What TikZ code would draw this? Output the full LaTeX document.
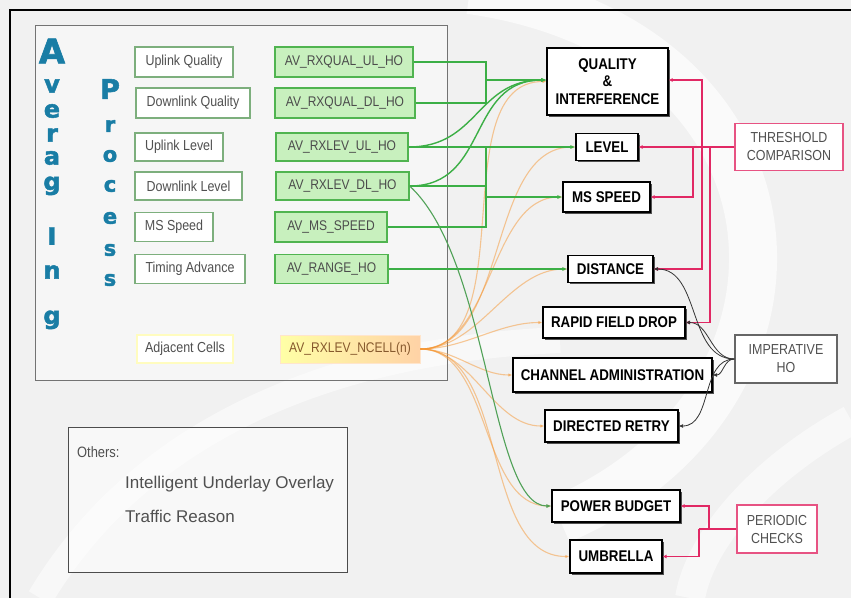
\documentclass[tikz,border=0pt]{standalone}
\usepackage{fontspec}
\setmainfont{Liberation Sans}
\newfontfamily\nar[FakeStretch=0.86]{Liberation Sans}
\newfontfamily\avfont[BoldFeatures={FakeBold=2}]{DejaVu Sans}
\usetikzlibrary{arrows.meta,shadows}
\definecolor{bg}{RGB}{241,241,241}
\definecolor{grn}{RGB}{60,175,70}
\definecolor{grnfill}{RGB}{200,240,190}
\definecolor{grnbd}{RGB}{80,180,80}
\definecolor{lblbd}{RGB}{125,175,125}
\definecolor{pnk}{RGB}{225,40,100}
\definecolor{org}{RGB}{245,150,50}
\definecolor{tealc}{RGB}{25,125,165}
\definecolor{txtg}{RGB}{80,80,80}
\begin{document}
\begin{tikzpicture}[x=1pt,y=-1pt,
  lbl/.style={draw=lblbd, line width=1.2pt, fill=white, inner sep=0pt, font=\nar\fontsize{14.5}{16}\selectfont, text=txtg},
  av/.style={draw=grnbd, line width=1.3pt, fill=grnfill, inner sep=0pt, font=\nar\fontsize{14}{16}\selectfont, text=black!70},
  rb/.style={draw=black, line width=1.2pt, fill=white, inner sep=0pt, align=center,
     font=\nar\bfseries\fontsize{15.5}{17.5}\selectfont,
     drop shadow={shadow xshift=1.5pt, shadow yshift=-1.5pt, fill=black!75, opacity=0.9}},
  tag/.style={line width=1.2pt, fill=white, inner sep=0pt, align=center, text=txtg,
     font=\nar\fontsize{14.5}{18}\selectfont},
  bigA/.style={text=tealc, font=\avfont\bfseries\fontsize{34}{34}\selectfont, inner sep=0pt},
  bigl/.style={text=tealc, font=\avfont\bfseries\fontsize{24}{24}\selectfont, inner sep=0pt},
  bigP/.style={text=tealc, font=\avfont\bfseries\fontsize{27}{27}\selectfont, inner sep=0pt},
  bigp/.style={text=tealc, font=\avfont\bfseries\fontsize{21}{21}\selectfont, inner sep=0pt},
  gline/.style={draw=grn, line width=1.4pt},
  garr/.style={gline, -{Latex[length=5pt,width=4pt]}},
  oline/.style={draw=org, line width=1.1pt, opacity=0.5, -{Latex[length=4pt,width=3.5pt]}},
  pline/.style={draw=pnk, line width=1.3pt},
  parr/.style={pline, -{Latex[length=4pt,width=4pt]}},
  barr/.style={draw=black!80, line width=0.8pt, -{Latex[length=4.5pt,width=4pt]}},
  txt/.style={text=txtg, inner sep=0pt, anchor=west}
]
\useasboundingbox (0,0) rectangle (851,598);
\fill[bg] (0,0) rectangle (851,598);
% watermark swooshes
\draw[white, line width=48pt, opacity=0.65] (470,-10) .. controls (820,40) and (840,400) .. (560,520);
\draw[white, line width=26pt, opacity=0.5] (40,598) .. controls (140,430) and (330,350) .. (560,340);
\draw[white, line width=30pt, opacity=0.5] (851,420) .. controls (760,470) and (700,540) .. (690,598);
% outer frame
\draw[line width=2pt] (10,598) -- (10,10) -- (851,10);

% averaging box
\node[draw=black!55, line width=0.8pt, fill=white, fill opacity=0.4, minimum width=412pt, minimum height=355pt, inner sep=0pt] (avgbox) at (241,202.5) {};

% big letters
\node[bigA] (a1) at (52,51) {A};
\node[bigl] (a2) at (52,86) {v};
\node[bigl] (a3) at (52,111) {e};
\node[bigl] (a4) at (52,135) {r};
\node[bigl] (a5) at (52,158) {a};
\node[bigl, anchor=base] (a6) at (52,190) {g};
\node[bigl] (a7) at (52,236) {I};
\node[bigl] (a8) at (52,272) {n};
\node[bigl, anchor=base] (a9) at (52,324) {g};
\node[bigP] (p1) at (110,89) {P};
\node[bigp] (p2) at (110,126) {r};
\node[bigp] (p3) at (110,156) {o};
\node[bigp] (p4) at (110,186) {c};
\node[bigp] (p5) at (110,218) {e};
\node[bigp] (p6) at (110,250) {s};
\node[bigp] (p7) at (110,280) {s};

% left labels
\node[lbl, minimum width=98pt, minimum height=30pt] (l1) at (184,62) {Uplink Quality};
\node[lbl, minimum width=114pt, minimum height=30pt] (l2) at (193,103) {Downlink Quality};
\node[lbl, minimum width=88pt, minimum height=28pt] (l3) at (179,147) {Uplink Level};
\node[lbl, minimum width=107pt, minimum height=28pt] (l4) at (188.5,186) {Downlink Level};
\node[lbl, minimum width=78pt, minimum height=29pt] (l5) at (174,227) {MS Speed};
\node[lbl, minimum width=110pt, minimum height=29pt] (l6) at (190,269) {Timing Advance};
\node[lbl, draw=yellow!25!white, minimum width=96pt, minimum height=28pt] (l7) at (185,349) {Adjacent Cells};

% AV boxes
\node[av, minimum width=138pt, minimum height=30pt] (v1) at (344,62) {AV\_RXQUAL\_UL\_HO};
\node[av, minimum width=140pt, minimum height=30pt] (v2) at (345,103) {AV\_RXQUAL\_DL\_HO};
\node[av, minimum width=132pt, minimum height=28pt] (v3) at (342,147) {AV\_RXLEV\_UL\_HO};
\node[av, minimum width=133pt, minimum height=28pt] (v4) at (342.5,186) {AV\_RXLEV\_DL\_HO};
\node[av, minimum width=112pt, minimum height=30pt] (v5) at (331,227) {AV\_MS\_SPEED};
\node[av, minimum width=113pt, minimum height=29pt] (v6) at (331.5,269) {AV\_RANGE\_HO};
\node[av, draw=orange!20!white, line width=0.6pt, left color=yellow!35!white, right color=orange!35!white, text=brown!70!black, minimum width=140pt, minimum height=28pt] (v7) at (350,349) {AV\_RXLEV\_NCELL(n)};

% right boxes
\node[rb, minimum width=121pt, minimum height=67pt] (qi) at (607.5,81.5) {QUALITY\\\&\\INTERFERENCE};
\node[rb, minimum width=62pt, minimum height=27pt] (lev) at (607,147) {LEVEL};
\node[rb, minimum width=87pt, minimum height=30pt] (mss) at (606.5,197) {MS SPEED};
\node[rb, minimum width=85pt, minimum height=27pt] (dist) at (610.5,269) {DISTANCE};
\node[rb, minimum width=142pt, minimum height=31pt] (rfd) at (614,322.5) {RAPID FIELD DROP};
\node[rb, minimum width=199pt, minimum height=34pt] (ca) at (612.5,375) {CHANNEL ADMINISTRATION};
\node[rb, minimum width=133pt, minimum height=32pt] (dr) at (611.5,426) {DIRECTED RETRY};
\node[rb, minimum width=128pt, minimum height=32pt] (pb) at (616,506) {POWER BUDGET};
\node[rb, minimum width=92pt, minimum height=33pt] (umb) at (616,556.5) {UMBRELLA};

% tag boxes
\node[tag, draw=pnk!80, minimum width=108pt, minimum height=47pt] (thr) at (789,147) {THRESHOLD\\COMPARISON};
\node[tag, draw=black!60, minimum width=102pt, minimum height=48pt] (imp) at (786,359) {IMPERATIVE\\HO};
\node[tag, draw=pnk!80, minimum width=80pt, minimum height=48pt] (per) at (777,529) {PERIODIC\\CHECKS};

% others box
\node[draw=black!70, line width=0.8pt, fill=white, fill opacity=0.5, minimum width=279pt, minimum height=145pt, inner sep=0pt] (oth) at (207.5,499.5) {};
\node[txt, font=\nar\fontsize{15}{16}\selectfont] (o1) at (77,452) {Others:};
\node[txt, font=\fontsize{17}{18}\selectfont] (o2) at (125,484) {Intelligent Underlay Overlay};
\node[txt, font=\fontsize{17}{18}\selectfont] (o3) at (125,516) {Traffic Reason};

% orange fan from NCELL
\foreach \t in {qi,lev,mss,dist,rfd,ca,dr,pb,umb}{
  \draw[oline] (v7.east) to[out=0,in=180,looseness=0.9] (\t.west);
}

% green connectors
\coordinate (j1) at (486,80);
\coordinate (j2) at (486,197);
\coordinate (j2t) at (486,147);
\draw[gline] (v1.east) -| (j1);
\draw[gline] (v2.east) -| (j1);
\draw[garr] (j1) -- (j1 -| qi.west);
\draw[garr] (v3.east) -- (lev.west);
\draw[gline] (v4.east) -- (v4.east -| j2);
\draw[gline] (v5.east) -| (j2t);
\draw[garr] (j2) -- (mss.west);
\draw[garr] (v6.east) -- (dist.west);
\draw[gline, -{Latex[length=5pt,width=4pt]}] (v3.east) .. controls +(70,0) and +(-70,0) .. (j1 -| qi.west);
\draw[gline, -{Latex[length=5pt,width=4pt]}] (v4.east) .. controls +(80,0) and +(-80,0) .. (j1 -| qi.west);
\draw[draw=grn!70!gray, line width=1.1pt, -{Latex[length=5pt,width=4pt]}] (v4.east) .. controls (490,260) and (490,506) .. (pb.west);

% pink threshold connectors
\coordinate (ta) at (702,147);
\coordinate (tb) at (693,147);
\coordinate (tc) at (710,147);
\draw[parr] (thr.west) -- (lev.east);
\draw[parr] (ta) |- (qi.east |- j1);
\draw[parr] (ta) |- (dist.east);
\draw[parr] (tb) |- (mss.east);
\draw[parr] (tc) |- (rfd.east);

% imperative connectors
\draw[barr] (imp.west) to[out=180,in=0] (dist.east);
\draw[barr] (imp.west) to[out=180,in=0] (rfd.east);
\draw[barr] (imp.west) to[out=180,in=0] (ca.east);
\draw[barr] (imp.west) to[out=180,in=0] (dr.east);

% periodic checks
\coordinate (q1) at (699,529);
\coordinate (q2) at (709,529);
\draw[pline] (per.west) -- (q1);
\draw[parr] (q1) |- (umb.east);
\draw[parr] (q2) |- (pb.east);
\end{tikzpicture}
\end{document}
